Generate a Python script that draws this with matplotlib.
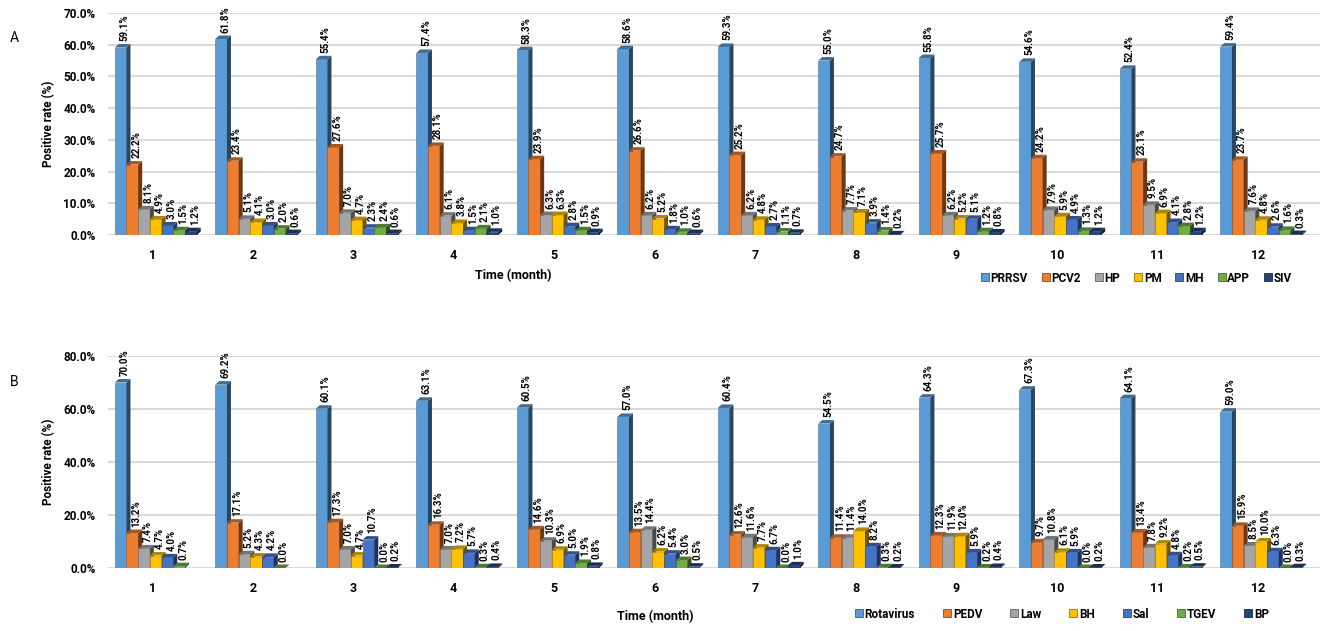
import numpy as np
import matplotlib
matplotlib.use("Agg")
import matplotlib.pyplot as plt
from matplotlib.patches import Polygon
from matplotlib.lines import Line2D
import matplotlib.colors as mcolors

plt.rcParams['font.family'] = ['Roboto', 'DejaVu Sans']
plt.rcParams['font.weight'] = 'bold'

months = [str(i) for i in range(1, 13)]

# Panel A
series_a = ["PRRSV", "PCV2", "HP", "PM", "MH", "APP", "SIV"]
prrsv = [59.1, 61.8, 55.4, 57.4, 58.3, 58.6, 59.3, 55.0, 55.8, 54.6, 52.4, 59.4]
pcv2 = [22.2, 23.4, 27.6, 28.1, 23.9, 26.6, 25.2, 24.7, 25.7, 24.2, 23.1, 23.7]
hp = [8.1, 5.1, 7.0, 6.1, 6.3, 6.2, 6.2, 7.7, 6.2, 7.9, 9.5, 7.6]
pm = [4.9, 4.1, 4.7, 3.8, 6.3, 5.2, 4.8, 7.1, 5.2, 5.9, 6.9, 4.8]
mh = [3.0, 3.0, 2.3, 1.5, 2.8, 1.8, 2.7, 3.9, 5.1, 4.9, 4.1, 2.6]
app = [1.5, 2.0, 2.4, 2.1, 1.5, 1.0, 1.1, 1.4, 1.2, 1.3, 2.8, 1.6]
siv = [1.2, 0.6, 0.6, 1.0, 0.9, 0.6, 0.7, 0.2, 0.8, 1.2, 1.2, 0.3]

# Panel B
series_b = ["Rotavirus", "PEDV", "Law", "BH", "Sal", "TGEV", "BP"]
rotavirus = [70.0, 69.2, 60.1, 63.1, 60.5, 57.0, 60.4, 54.5, 64.3, 67.3, 64.1, 59.0]
pedv = [13.2, 17.1, 17.3, 16.3, 14.6, 13.5, 12.6, 11.4, 12.3, 9.7, 13.4, 15.9]
law = [7.4, 5.2, 7.0, 7.0, 10.3, 14.4, 11.6, 11.4, 11.9, 10.8, 7.8, 8.5]
bh = [4.7, 4.3, 4.7, 7.2, 6.9, 6.2, 7.7, 14.0, 12.0, 6.1, 9.2, 10.0]
sal = [4.0, 4.2, 10.7, 5.7, 5.0, 5.4, 6.7, 8.2, 5.9, 5.9, 4.8, 6.3]
tgev = [0.7, 0.0, 0.0, 0.3, 1.9, 3.0, 0.0, 0.3, 0.2, 0.0, 0.2, 0.0]
bp = [np.nan, np.nan, 0.2, 0.4, 0.8, 0.5, 1.0, 0.2, 0.4, 0.2, 0.5, 0.3]

data_a = [prrsv, pcv2, hp, pm, mh, app, siv]
data_b = [rotavirus, pedv, law, bh, sal, tgev, bp]

colors = ["#5B9BD5", "#ED7D31", "#A5A5A5", "#FFC000", "#4472C4", "#70AD47", "#264478"]


def shade(c, f):
    r, g, b = mcolors.to_rgb(c)
    return (r * f, g * f, b * f)


W, H = 1325, 631
fig = plt.figure(figsize=(W / 100, H / 100), dpi=100)

xlim = (0.56, 12.62)
bw = 0.1165
ax_left, ax_right = 108 / W, 1320 / W


def draw_panel(ax, data, names, ymax, ystep, ax_hpx):
    ax.set_xlim(*xlim)
    ax.set_ylim(0, ymax)
    px_per_x = (ax_right - ax_left) * W / (xlim[1] - xlim[0])
    px_per_y = ax_hpx / ymax
    dx = 4.0 / px_per_x
    dy = 3.5 / px_per_y
    pad = 3.0 / px_per_y
    lab_dx = 4.0 / px_per_x
    x = np.arange(1, 13)
    n = len(data)
    for i, (vals, c) in enumerate(zip(data, colors)):
        offs = (i - (n - 1) / 2) * bw + 0.035
        z = 3 + i
        for xi, v in zip(x, vals):
            if np.isnan(v):
                continue
            xl = xi + offs - bw / 2
            ax.bar(xl, v, width=bw, align='edge', color=c, edgecolor=shade(c, 0.75),
                   linewidth=0.4, zorder=z)
            side = Polygon([(xl + bw, 0), (xl + bw, v), (xl + bw + dx, v + dy), (xl + bw + dx, dy)],
                           closed=True, facecolor=shade(c, 0.45), edgecolor='none', zorder=z)
            top = Polygon([(xl, v), (xl + bw, v), (xl + bw + dx, v + dy), (xl + dx, v + dy)],
                          closed=True, facecolor=shade(c, 0.7), edgecolor='none', zorder=z)
            ax.add_patch(side)
            ax.add_patch(top)
            ax.text(xl + bw / 2 + lab_dx, v + dy + pad, f"{v:.1f}%", rotation=90,
                    ha='center', va='bottom', fontsize=7, fontweight='bold', zorder=20)
    ticks = np.arange(0, ymax + 0.01, ystep)
    ax.set_yticks(ticks)
    ax.set_yticklabels([f"{t:.1f}%" for t in ticks], fontsize=8.5, fontweight='bold')
    ax.set_xticks(x)
    ax.set_xticklabels(months, fontsize=9, fontweight='bold')
    ax.tick_params(length=0, pad=10)
    ax.tick_params(axis='y', pad=9)
    ax.grid(axis='y', color='#D9D9D9', linewidth=1.4, zorder=0)
    ax.set_axisbelow(True)
    for s in ax.spines.values():
        s.set_visible(False)
    ax.set_ylabel("Positive rate (%)", fontsize=8.5, fontweight='bold', labelpad=6)


# Panel A axes: 0% at y=235, 70% at y=13
axA = fig.add_axes([ax_left, 1 - 235 / H, ax_right - ax_left, (235 - 13) / H])
draw_panel(axA, data_a, series_a, 70, 10, 222)
# Panel B axes: 0% at y=568, 80% at y=356
axB = fig.add_axes([ax_left, 1 - 568 / H, ax_right - ax_left, (568 - 356) / H])
draw_panel(axB, data_b, series_b, 80, 20, 212)

fig.text(513 / W, 1 - 276 / H, "Time (month)", ha='center', va='center', fontsize=9, fontweight='bold')
fig.text(655 / W, 1 - 617 / H, "Time (month)", ha='center', va='center', fontsize=9, fontweight='bold')
fig.text(14 / W, 1 - 38 / H, "A", ha='center', va='center', fontsize=10, fontweight='normal')
fig.text(14 / W, 1 - 382 / H, "B", ha='center', va='center', fontsize=10, fontweight='normal')


def legend(names, x0, x1, yc, colspace):
    handles = [Line2D([0], [0], marker='s', linestyle='none', markersize=6,
                      markerfacecolor=c, markeredgecolor=shade(c, 0.6), markeredgewidth=0.6)
               for c in colors]
    fig.legend(handles, names, ncol=7, loc='center', frameon=False,
               bbox_to_anchor=((x0 + x1) / 2 / W, 1 - yc / H),
               handletextpad=0.1, columnspacing=colspace, handlelength=0.8,
               prop={'weight': 'bold', 'size': 8.5})


legend(series_a, 980, 1292, 278, 1.1)
legend(series_b, 845, 1278, 614, 2.3)

fig.savefig("out.png", dpi=100)
